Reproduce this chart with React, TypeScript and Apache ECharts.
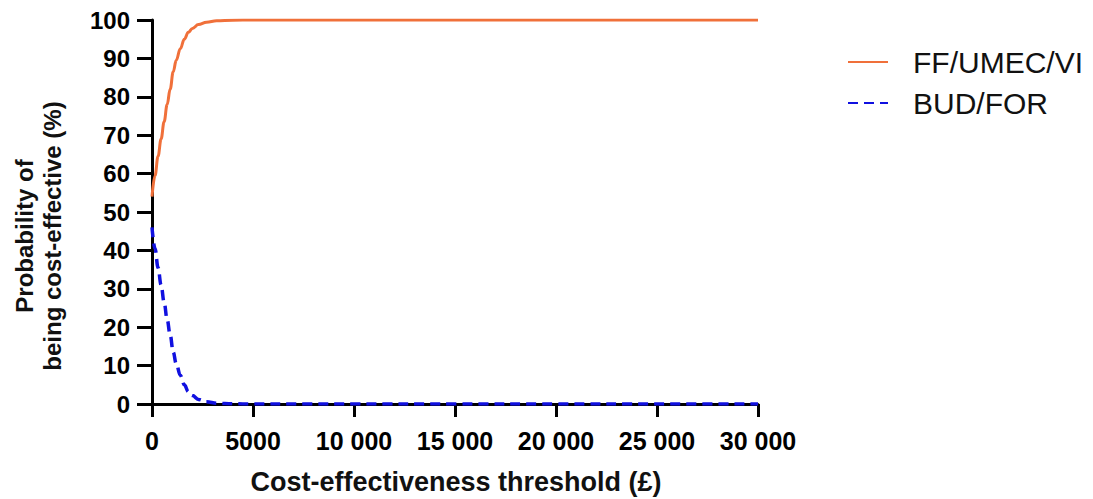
import React, { useEffect, useRef } from "react";
import * as echarts from "echarts";

const thresholds = [0, 150, 300, 450, 600, 750, 900, 1050, 1200, 1400, 1600, 1800, 2000, 2300, 2700, 3200, 4000, 5000, 7500, 10000, 15000, 20000, 25000, 30000];
const ffUmecVi = [54, 59.5, 64.5, 69, 73.5, 78, 82, 86.5, 89.5, 92.5, 95, 96.8, 97.8, 98.8, 99.4, 99.8, 99.95, 100, 100, 100, 100, 100, 100, 100];
const budFor = [46, 40.5, 35.5, 31, 26.5, 22, 18, 13.5, 10.5, 7.5, 5, 3.2, 2.2, 1.2, 0.6, 0.2, 0.05, 0, 0, 0, 0, 0, 0, 0];
const seriesNames = ["FF/UMEC/VI", "BUD/FOR"];
const xTitle = "Cost-effectiveness threshold (£)";
const yTitle = "Probability of\nbeing cost-effective (%)";

const FONT = "'Liberation Sans', Arial, sans-serif";

export default function App() {
  const ref = useRef<HTMLDivElement>(null);
  useEffect(() => {
    if (!ref.current) return;
    const chart = echarts.init(ref.current, null, { renderer: "svg" });
    const fmtX = (v: number) => {
      if (v < 10000) return String(v);
      const s = String(v);
      return s.slice(0, s.length - 3) + " " + s.slice(s.length - 3);
    };
    chart.setOption({
      animation: false,
      backgroundColor: "#ffffff",
      textStyle: { fontFamily: FONT },
      grid: { left: 152, right: 335, top: 20, bottom: 95 },
      legend: {
        orient: "vertical",
        left: 842,
        top: 42,
        itemWidth: 40,
        itemHeight: 14,
        itemGap: 11,
        data: seriesNames,
        itemStyle: { opacity: 0 },
        textStyle: { fontFamily: FONT, fontSize: 30, color: "#111", padding: [0, 0, 0, 20] },
      },
      xAxis: {
        type: "value",
        min: 0,
        max: 30000,
        interval: 5000,
        splitLine: { show: false },
        axisLine: { show: true, lineStyle: { color: "#000", width: 3 } },
        axisTick: { show: true, length: 13, lineStyle: { color: "#000", width: 3 } },
        axisLabel: {
          margin: 24,
          fontFamily: FONT,
          fontSize: 25,
          fontWeight: "bold",
          color: "#000",
          formatter: fmtX,
        },
      },
      yAxis: {
        type: "value",
        min: 0,
        max: 100,
        interval: 10,
        splitLine: { show: false },
        axisLine: { show: true, lineStyle: { color: "#000", width: 3 } },
        axisTick: { show: true, length: 15, lineStyle: { color: "#000", width: 3 } },
        axisLabel: {
          margin: 22,
          fontFamily: FONT,
          fontSize: 24,
          fontWeight: "bold",
          color: "#000",
        },
      },
      graphic: [
        {
          type: "text",
          x: 456,
          y: 482,
          style: {
            text: xTitle,
            x: 0,
            y: 0,
            textAlign: "center",
            textVerticalAlign: "middle",
            font: `bold 27px ${FONT}`,
            fill: "#111",
          },
        },
        {
          type: "text",
          x: 38,
          y: 236,
          rotation: Math.PI / 2,
          style: {
            text: yTitle,
            x: 0,
            y: 0,
            textAlign: "center",
            textVerticalAlign: "middle",
            font: `bold 24px ${FONT}`,
            lineHeight: 28,
            fill: "#111",
          },
        },
      ],
      series: [
        {
          name: seriesNames[0],
          type: "line",
          data: thresholds.map((t, i) => [t, ffUmecVi[i]]),
          symbol: "none",
          smooth: 0.4,
          smoothMonotone: "x",
          color: "#f0703a",
          lineStyle: { color: "#f0703a", width: 3 },
        },
        {
          name: seriesNames[1],
          type: "line",
          data: thresholds.map((t, i) => [t, budFor[i]]),
          symbol: "none",
          smooth: 0.4,
          smoothMonotone: "x",
          color: "#1010e0",
          lineStyle: { color: "#1010e0", width: 3.5, type: [10, 6] },
        },
      ],
    });
    return () => chart.dispose();
  }, []);
  return (
    <div
      ref={ref}
      style={{ position: "absolute", left: 0, top: 0, width: 1093, height: 499 }}
    />
  );
}
